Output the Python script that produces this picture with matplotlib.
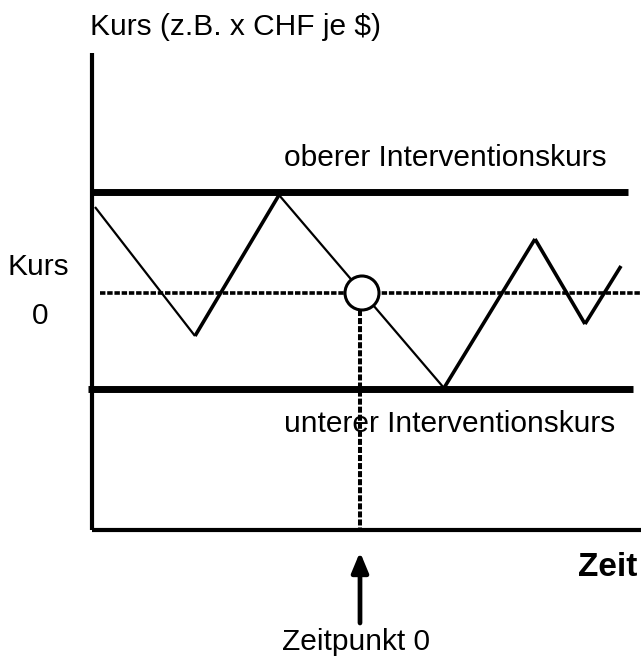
import matplotlib.pyplot as plt
from matplotlib.patches import Circle

plt.rcParams['font.family'] = ['Liberation Sans', 'DejaVu Sans']

# Kursverlauf (Bildkoordinaten, y nach unten)
zeit = [95, 195, 279, 444, 535, 585, 621]
kurs = [207, 336, 195, 388, 239, 324, 266]
strich = [1.6, 2.6, 1.6, 2.6, 2.6, 2.6]

oberer_kurs = 192
unterer_kurs = 389
kurs_0 = 293
zeitpunkt_0 = 360

fig = plt.figure(figsize=(6.41, 6.57), dpi=100)
ax = fig.add_axes([0, 0, 1, 1])
ax.set_xlim(0, 641)
ax.set_ylim(657, 0)
ax.axis('off')

# Achsen
ax.plot([92, 92], [53, 530], color='black', lw=3, solid_capstyle='butt')
ax.plot([92, 641], [530, 530], color='black', lw=3, solid_capstyle='butt')

# Interventionskurse
ax.plot([92, 628], [oberer_kurs, oberer_kurs], color='black', lw=5, solid_capstyle='butt')
ax.plot([88, 633], [unterer_kurs, unterer_kurs], color='black', lw=5, solid_capstyle='butt')

# Kurs 0 / Zeitpunkt 0 (gestrichelt)
ax.plot([100, 641], [kurs_0, kurs_0], color='black', lw=2.6, linestyle=(0, (1.5, 0.5)))
ax.plot([zeitpunkt_0, zeitpunkt_0], [310, 530], color='black', lw=2.9, linestyle=(0, (1.5, 0.5)))

# Kursverlauf
for i in range(len(zeit) - 1):
    ax.plot(zeit[i:i + 2], kurs[i:i + 2], color='black', lw=strich[i], solid_capstyle='butt')

ax.add_patch(Circle((362, kurs_0), 17, facecolor='white', edgecolor='black', lw=2.2, zorder=5))

# Pfeil
ax.annotate('', xy=(zeitpunkt_0, 552), xytext=(zeitpunkt_0, 623),
            arrowprops=dict(arrowstyle='-|>,head_width=0.5,head_length=1.2',
                            color='black', lw=3.4, shrinkA=0, shrinkB=0))

fs = 21.5
ax.text(90, 27, 'Kurs (z.B. x CHF je $)', fontsize=fs, ha='left', va='center')
ax.text(284, 158, 'oberer Interventionskurs', fontsize=fs, ha='left', va='center')
ax.text(284, 424, 'unterer Interventionskurs', fontsize=fs, ha='left', va='center')
ax.text(8, 267, 'Kurs', fontsize=fs, ha='left', va='center')
ax.text(40, 316, '0', fontsize=fs, ha='center', va='center')
ax.text(637, 568, 'Zeit', fontsize=24, fontweight='bold', ha='right', va='center')
ax.text(356, 642, 'Zeitpunkt 0', fontsize=fs, ha='center', va='center')

fig.savefig('out.png', dpi=100)
